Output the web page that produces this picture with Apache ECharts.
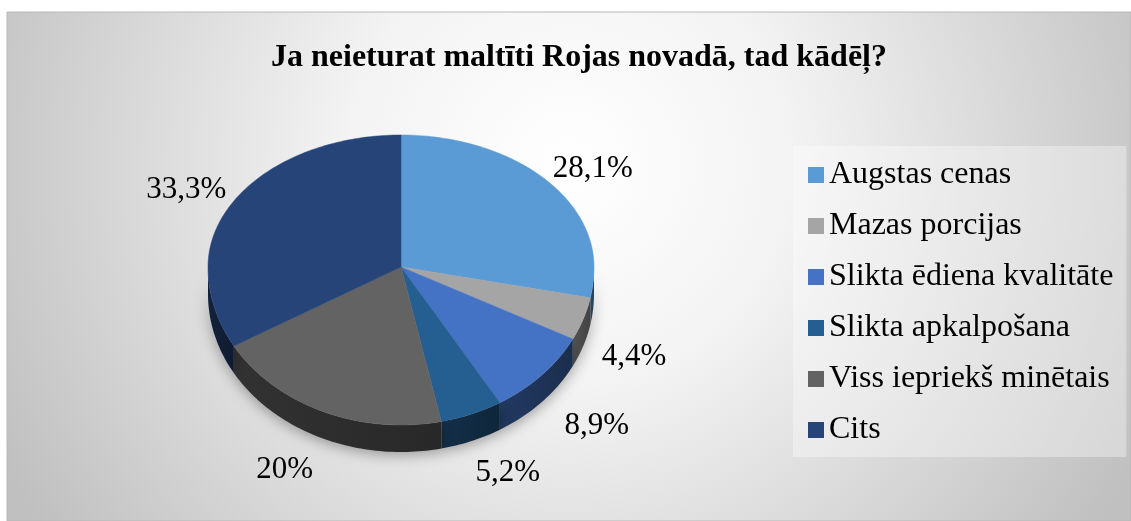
<!DOCTYPE html>
<html>
<head>
<meta charset="utf-8">
<script src="https://cdn.jsdelivr.net/npm/echarts@6/dist/echarts.min.js"></script>
<style>
  html, body { margin: 0; padding: 0; background: #fff; }
  #chart { width: 1131px; height: 521px; }
</style>
</head>
<body>
<div id="chart"></div>
<script>
// data
const categories = ['Augstas cenas', 'Mazas porcijas', 'Slikta ēdiena kvalitāte',
  'Slikta apkalpošana', 'Viss iepriekš minētais', 'Cits'];
const shares = [28.1, 4.4, 8.9, 5.2, 20, 33.3];
const colors = ['#5b9bd5', '#a5a5a5', '#4472c4', '#255e91', '#636363', '#264478'];

const FONT = '"Liberation Serif", "Times New Roman", serif';
const LABEL_SIZE = 31;

// pie geometry (screen pixels), a tilted disk with a bit of perspective
const cx = 401, cy = 267, rx = 193, ryTop = 132, ryBottom = 158, depth = 27;

const total = shares.reduce((a, b) => a + b, 0);

function pt(t, dy) {
  const c = Math.cos(t);
  const ry = c > 0 ? ryTop : ryBottom;
  return [cx + rx * Math.sin(t), cy - ry * c + (dy || 0)];
}

function arc(t1, t2, dy) {
  const pts = [];
  const n = Math.max(2, Math.ceil((t2 - t1) / 0.02));
  for (let i = 0; i <= n; i++) pts.push(pt(t1 + (t2 - t1) * i / n, dy));
  return pts;
}

// darker shade for the side walls
function darken(hex, k) {
  const n = parseInt(hex.slice(1), 16);
  const r = Math.round(((n >> 16) & 255) * k);
  const g = Math.round(((n >> 8) & 255) * k);
  const b = Math.round((n & 255) * k);
  return 'rgb(' + r + ',' + g + ',' + b + ')';
}

const measure = document.createElement('canvas').getContext('2d');

function labelText(v) {
  return String(v).replace('.', ',') + '%';
}

function renderSlice(params, api) {
  const idx = params.dataIndex;
  let start = 0;
  for (let i = 0; i < idx; i++) start += api.value(0, i);
  const v = api.value(0);
  const t1 = start / total * Math.PI * 2;
  const t2 = (start + v) / total * Math.PI * 2;
  const color = colors[idx];
  const children = [];

  // outer wall, only where it faces the viewer
  const a = Math.max(t1, Math.PI / 2), b = Math.min(t2, Math.PI * 1.5);
  if (a < b) {
    const top = arc(a, b, 0);
    const bottom = arc(a, b, depth).reverse();
    children.push({
      type: 'polygon',
      z2: 1,
      shape: { points: top.concat(bottom) },
      style: {
        fill: new echarts.graphic.LinearGradient(0, 0, 1, 0, [
          { offset: 0, color: darken(color, 0.5) },
          { offset: 1, color: darken(color, 0.4) }
        ]),
        shadowBlur: 14,
        shadowColor: 'rgba(0,0,0,0.35)',
        shadowOffsetY: 3
      }
    });
  }

  // top face
  children.push({
    type: 'polygon',
    z2: 10,
    shape: { points: [[cx, cy]].concat(arc(t1, t2, 0)) },
    style: { fill: color, stroke: color, lineWidth: 0.5 }
  });

  // outside-end data label
  const tm = (t1 + t2) / 2;
  const s = Math.sin(tm), c = Math.cos(tm);
  const txt = labelText(v);
  measure.font = LABEL_SIZE + 'px ' + FONT;
  const w = measure.measureText(txt).width, h = LABEL_SIZE;
  const dx = 15 + 60 * Math.pow(Math.max(0, -c), 2);
  const dyOff = c > 0 ? 7 : 19;
  const ry = c > 0 ? ryTop : ryBottom;
  const ax = cx + (rx + dx) * s;
  const ay = cy - (ry + dyOff) * c + (c < 0 ? depth : 0);
  children.push({
    type: 'text',
    z2: 20,
    x: ax + w / 2 * s,
    y: ay - h / 2 * c,
    style: {
      text: txt,
      font: LABEL_SIZE + 'px ' + FONT,
      fill: '#000',
      align: 'center',
      verticalAlign: 'middle'
    }
  });

  return { type: 'group', children: children };
}

const chart = echarts.init(document.getElementById('chart'));

const option = {
  animation: false,
  graphic: [{
    type: 'rect',
    z: -10,
    shape: { x: 7, y: 12, width: 1124, height: 509 },
    style: {
      fill: new echarts.graphic.RadialGradient(0.5, 0.3, 1.25, [
        { offset: 0, color: '#ffffff' },
        { offset: 0.35, color: '#f3f3f3' },
        { offset: 1, color: '#c0c0c0' }
      ]),
      stroke: '#b8b8b8',
      lineWidth: 1
    }
  }],
  title: {
    text: 'Ja neieturat maltīti Rojas novadā, tad kādēļ?',
    left: 574,
    top: 37,
    textAlign: 'center',
    textStyle: { fontFamily: FONT, fontWeight: 'bold', fontSize: 32, color: '#000' }
  },
  legend: {
    orient: 'vertical',
    left: 793,
    top: 146,
    padding: [13, 13, 11, 15],
    backgroundColor: 'rgba(255,255,255,0.35)',
    icon: 'rect',
    itemWidth: 16,
    itemHeight: 16,
    itemGap: 19,
    data: categories,
    textStyle: { fontFamily: FONT, fontSize: 32, color: '#000', lineHeight: 32 }
  },
  series: [
    {
      type: 'custom',
      coordinateSystem: 'none',
      silent: true,
      renderItem: renderSlice,
      data: shares.map((v, i) => ({ name: categories[i], value: [v] }))
    },
    {
      // invisible pie that only feeds the legend its names and colours
      type: 'pie',
      radius: [0, 0],
      silent: true,
      label: { show: false },
      labelLine: { show: false },
      data: shares.map((v, i) => ({ name: categories[i], value: v, itemStyle: { color: colors[i] } }))
    }
  ]
};

chart.setOption(option);
</script>
</body>
</html>
